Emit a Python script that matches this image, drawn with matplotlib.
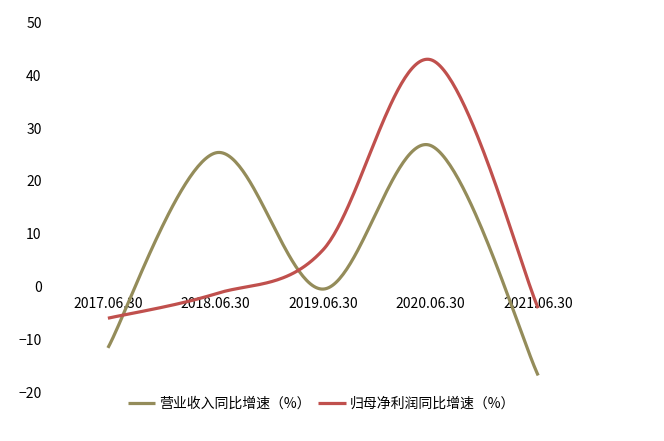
import numpy as np
import matplotlib
matplotlib.use('Agg')
import matplotlib.pyplot as plt

plt.rcParams['font.family'] = ['Noto Sans CJK SC', 'DejaVu Sans']

###############################################################################
# Data
###############################################################################
DATES = ['2017.06.30', '2018.06.30', '2019.06.30', '2020.06.30', '2021.06.30']
REVENUE = [-11.5, 25.3, -0.4, 26.7, -16.7]
PROFIT = [-5.9, -1.3, 7.0, 42.9, -4.0]
NAMES = ('营业收入同比增速（%）', '归母净利润同比增速（%）')
COLORS = ('#948C5A', '#C0504D')


def smooth(xs, ys, n=60):
    # Excel-style smoothed line: Catmull-Rom drawn as cubic Bezier segments
    pts = np.column_stack([xs, ys]).astype(float)
    pts = np.vstack([pts[0], pts, pts[-1]])
    out = []
    t = np.linspace(0, 1, n)[:, None]
    for i in range(1, len(pts) - 2):
        p0, p1, p2, p3 = pts[i - 1], pts[i], pts[i + 1], pts[i + 2]
        c1 = p1 + (p2 - p0) / 6
        c2 = p2 - (p3 - p1) / 6
        seg = ((1 - t) ** 3) * p1 + 3 * ((1 - t) ** 2) * t * c1 \
            + 3 * (1 - t) * t ** 2 * c2 + t ** 3 * p2
        out.append(seg)
    out = np.vstack(out)
    return out[:, 0], out[:, 1]


###############################################################################
# Plot
###############################################################################
fig = plt.figure(figsize=(6.64, 4.41), dpi=100)
ax = fig.add_axes([0.0815, 0.109, 0.81, 0.841])
x = np.arange(len(DATES))
for vals, name, col in zip((REVENUE, PROFIT), NAMES, COLORS):
    sx, sy = smooth(x, vals)
    ax.plot(sx, sy, color=col, lw=2.3, label=name, solid_capstyle='butt')

ax.set_xlim(-0.5, len(DATES) - 0.5)
ax.set_ylim(-20, 50)
ax.set_yticks(range(-20, 51, 10))
ax.set_xticks(x)
ax.set_xticklabels(DATES)
ax.spines['bottom'].set_position(('data', 0))
for s in ('top', 'right', 'left', 'bottom'):
    ax.spines[s].set_visible(False)
ax.tick_params(axis='both', length=0, labelsize=10, colors='#000000')
ax.tick_params(axis='x', pad=7)
ax.tick_params(axis='y', pad=9)

ax.legend(
    loc='center', bbox_to_anchor=(0.497, -0.03), ncol=2, frameon=False,
    fontsize=10, handlelength=2.0, handletextpad=0.3, columnspacing=0.5
)
plt.savefig('out.png', dpi=100, facecolor='white')
plt.close()
